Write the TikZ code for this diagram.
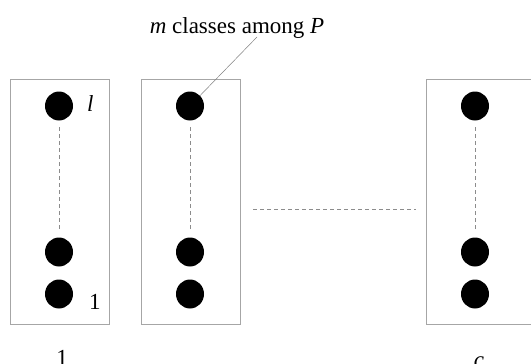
\documentclass[tikz,border=0pt]{standalone}
\usepackage{fontspec}
\usetikzlibrary{shapes.geometric}
\setmainfont{Liberation Serif}
\begin{document}
\begin{tikzpicture}[x=1pt,y=-1pt,
  classbox/.style={draw=black!35, line width=0.8pt},
  dot/.style={ellipse, fill=black, minimum width=28pt, minimum height=29pt, inner sep=0pt},
  gap/.style={draw=black!45, dashed, dash pattern=on 4pt off 3pt, line width=0.6pt},
  lbl/.style={font=\fontsize{23}{26}\selectfont, inner sep=0pt},
  leader/.style={draw=black!50, line width=0.5pt}]
\useasboundingbox (0,0) rectangle (531,364);
\clip (0,0) rectangle (531,364);
% boxes
\draw[classbox] (10,79) rectangle (109,324);
\draw[classbox] (141,79) rectangle (240,324);
\draw[classbox] (426,79) rectangle (545,324);
% dots
\foreach \n/\x in {a/59,b/190,c/475}{
  \node[dot] (\n top) at (\x,106) {};
  \node[dot] (\n mid) at (\x,252) {};
  \node[dot] (\n bot) at (\x,294) {};
  \coordinate (\n s) at (\x,127);
  \coordinate (\n e) at (\x,230);
  \draw[gap] (\n s) -- (\n e);
}
\coordinate (hs) at (253,209);
\coordinate (he) at (416,209);
\draw[gap] (hs) -- (he);
% labels
\node[lbl, anchor=base west] (ll) at (87,111) {\itshape l};
\node[lbl, anchor=base west] (l1) at (89,309) {1};
\node[lbl, anchor=base] (title) at (237,33) {\itshape m\/\upshape{} classes among \itshape P};
\coordinate (tl) at (257,37);
\draw[leader] (tl) -- (btop.north east);
\node[lbl, anchor=base] (n1) at (62,365) {1};
\node[lbl, anchor=base] (nc) at (479,367) {\itshape c};
\end{tikzpicture}
\end{document}
